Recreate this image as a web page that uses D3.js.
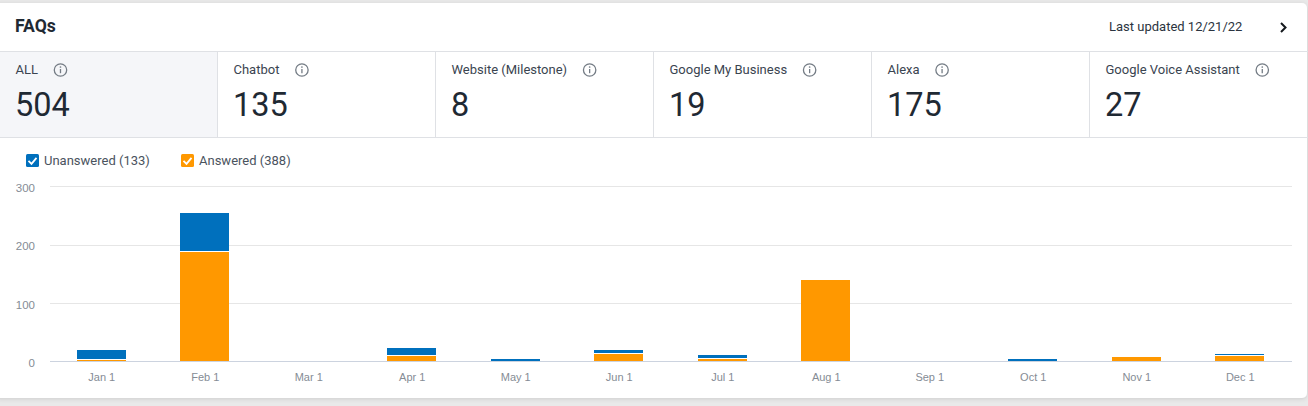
<!DOCTYPE html>
<html>
<head>
<meta charset="utf-8">
<script src="https://cdnjs.cloudflare.com/ajax/libs/d3/7.8.5/d3.min.js"></script>
<style>
html, body { margin: 0; padding: 0; background: #e9e9e9; overflow: hidden; }
svg { display: block; font-family: Roboto, sans-serif; }
.tick-y text { fill: #858c95; font-size: 11.5px; }
.tick-x text { fill: #858c95; font-size: 11px; }
</style>
</head>
<body>
<svg id="chart" width="1308" height="406"></svg>
<script>
var months = ["Jan 1", "Feb 1", "Mar 1", "Apr 1", "May 1", "Jun 1", "Jul 1", "Aug 1", "Sep 1", "Oct 1", "Nov 1", "Dec 1"];
var answered = [2, 187, 0, 9, 0, 12, 4, 139, 0, 0, 7, 9];
var unanswered = [17, 67, 0, 13, 4, 7, 6, 0, 0, 4, 0, 3];
var yTicks = [0, 100, 200, 300];
var tabNames = ["ALL", "Chatbot", "Website (Milestone)", "Google My Business", "Alexa", "Google Voice Assistant"];
var tabCounts = [504, 135, 8, 19, 175, 27];
var legendNames = ["Unanswered (133)", "Answered (388)"];
var legendColors = ["#0070bd", "#ff9800"];

var svg = d3.select("#chart");

// card with its soft bottom shadow
var defs = svg.append("defs");
var blur = defs.append("filter").attr("id", "shadow")
    .attr("x", "-2%").attr("y", "-5%").attr("width", "104%").attr("height", "110%");
blur.append("feDropShadow").attr("dx", 0).attr("dy", 1).attr("stdDeviation", 2)
    .attr("flood-color", "#000").attr("flood-opacity", 0.12);
svg.append("rect").attr("x", -6).attr("y", 3).attr("width", 1313).attr("height", 395)
    .attr("rx", 5).attr("fill", "#fff").attr("filter", "url(#shadow)");

// header
svg.append("text").attr("x", 15).attr("y", 32).text("FAQs")
    .attr("font-size", 17.6).attr("font-weight", 700).attr("fill", "#1f2933");
svg.append("text").attr("x", 1109).attr("y", 31).text("Last updated 12/21/22")
    .attr("font-size", 13).attr("fill", "#2b3440");
svg.append("path").attr("d", "M1281 23l4.5 4.5l-4.5 4.5").attr("fill", "none")
    .attr("stroke", "#14181d").attr("stroke-width", 2);

// tab strip
var tabX = d3.scaleLinear().domain([0, 1]).range([-1, 217]);
var tabs = svg.append("g");
tabs.append("rect").attr("x", 0).attr("y", 52).attr("width", 217).attr("height", 85).attr("fill", "#f5f6f9");
tabs.append("line").attr("x1", 0).attr("x2", 1308).attr("y1", 51.5).attr("y2", 51.5).attr("stroke", "#dfe1e5");
tabs.append("line").attr("x1", 0).attr("x2", 1308).attr("y1", 137.5).attr("y2", 137.5).attr("stroke", "#dfe1e5");

var tab = tabs.selectAll("g.tab").data(tabNames).enter().append("g")
    .attr("class", "tab")
    .attr("transform", function (d, i) { return "translate(" + tabX(i) + ",0)"; });
tab.filter(function (d, i) { return i > 0; }).append("line")
    .attr("x1", 0.5).attr("x2", 0.5).attr("y1", 52).attr("y2", 137).attr("stroke", "#dfe1e5");
tab.append("text").attr("class", "tab-label").attr("x", 16.5).attr("y", 74).text(function (d) { return d; })
    .attr("font-size", 13).attr("fill", "#3a4450");
tab.append("text").attr("x", 16).attr("y", 116).text(function (d, i) { return tabCounts[i]; })
    .attr("font-size", 32.5).attr("fill", "#1f2933");

// info icons sit just after each label
tab.each(function () {
    var g = d3.select(this);
    var cx = g.select(".tab-label").node().getComputedTextLength() + 17 + 22;
    var icon = g.append("g").attr("transform", "translate(" + cx + ",70)");
    icon.append("circle").attr("r", 6.2).attr("fill", "none").attr("stroke", "#747c85").attr("stroke-width", 1.3);
    icon.append("line").attr("y1", -1).attr("y2", 3.2).attr("stroke", "#747c85").attr("stroke-width", 1.3);
    icon.append("circle").attr("cy", -3).attr("r", 0.85).attr("fill", "#747c85");
});

// legend
var legendX = [26, 181];
var legend = svg.selectAll("g.legend").data(legendNames).enter().append("g")
    .attr("class", "legend")
    .attr("transform", function (d, i) { return "translate(" + legendX[i] + ",154)"; });
legend.append("rect").attr("width", 13).attr("height", 13).attr("rx", 1.5)
    .attr("fill", function (d, i) { return legendColors[i]; });
legend.append("path").attr("d", "M2.5 6.8l3 3l5-6").attr("fill", "none")
    .attr("stroke", "#fff").attr("stroke-width", 1.8);
legend.append("text").attr("x", 18).attr("y", 11).text(function (d) { return d; })
    .attr("font-size", 13).attr("fill", "#4a535e");

// plot
var x = d3.scaleBand().domain(months).range([49.3, 1291.3]).paddingInner(0.527).paddingOuter(0.2635);
var y = d3.scaleLinear().domain([0, 300]).range([361, 186]);

var yAxis = d3.axisLeft(y).tickValues(yTicks).tickSize(0).tickPadding(15);
var yg = svg.append("g").attr("class", "tick-y").attr("transform", "translate(50,1)").call(yAxis);
yg.select(".domain").remove();
yg.selectAll("text").attr("dy", "0.38em");

svg.append("g").selectAll("line").data(yTicks).enter().append("line")
    .attr("x1", 50).attr("x2", 1292)
    .attr("y1", function (d) { return Math.ceil(y(d)) + 0.5; })
    .attr("y2", function (d) { return Math.ceil(y(d)) + 0.5; })
    .attr("stroke", function (d) { return d === 0 ? "#ccd3df" : "#e6e6e6"; });

var rows = months.map(function (m, i) {
    return { month: m, answered: answered[i], unanswered: unanswered[i] };
});
var stack = d3.stack().keys(["answered", "unanswered"]);
var seriesColors = { answered: legendColors[1], unanswered: legendColors[0] };

svg.append("g").selectAll("g").data(stack(rows)).enter().append("g")
    .attr("fill", function (s) { return seriesColors[s.key]; })
    .selectAll("rect").data(function (s) { return s; }).enter().append("rect")
    .filter(function (d) { return d[1] > d[0]; })
    .attr("x", function (d) { return Math.round(x(d.data.month)); })
    .attr("width", Math.round(x.bandwidth()))
    .attr("y", function (d) { return Math.round(y(d[1])); })
    // white hairline between the two segments of a stack
    .attr("height", function (d) {
        return Math.round(y(d[0])) - Math.round(y(d[1])) - (d[0] > 0 ? 1 : 0);
    });

var xAxis = d3.axisBottom(x).tickSize(0).tickPadding(12);
var xg = svg.append("g").attr("class", "tick-x").attr("transform", "translate(0.7,361)").call(xAxis);
xg.select(".domain").remove();
</script>
</body>
</html>
